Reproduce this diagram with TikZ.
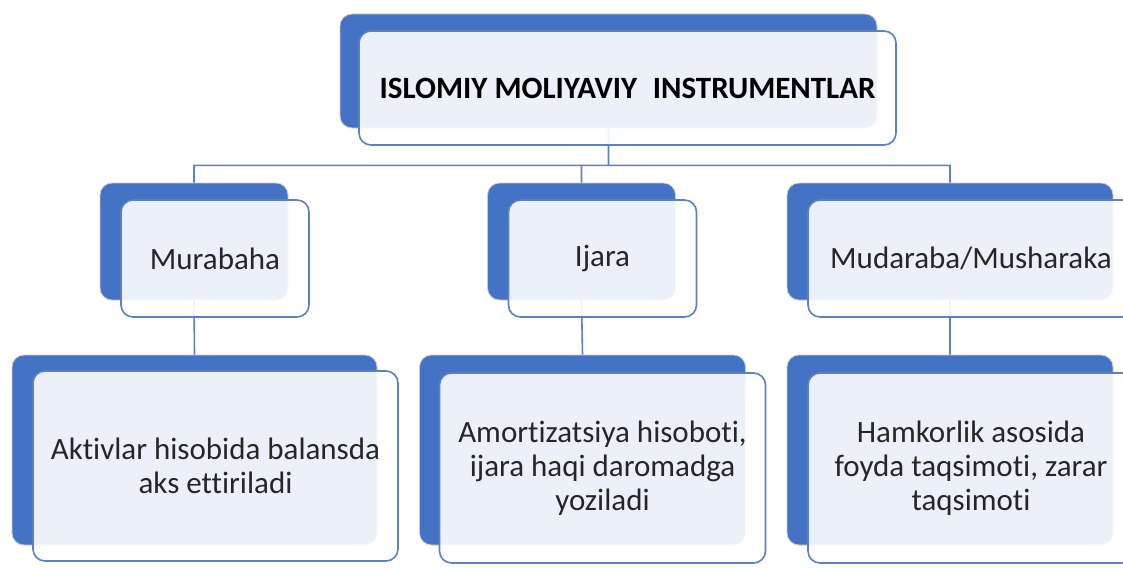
\documentclass[tikz,border=0pt]{standalone}
\usepackage{fontspec}
\setmainfont[Ligatures=NoCommon]{Carlito}
\definecolor{sablue}{HTML}{4472C4}
\definecolor{saline}{HTML}{5B80C6}
\definecolor{satext}{HTML}{262626}

\begin{document}
\begin{tikzpicture}[x=1pt, y=-1pt, font=\fontsize{31}{34}\selectfont,
  backbox/.style={rectangle, rounded corners=12pt, fill=sablue, draw=black!20, line width=0.8pt, inner sep=0pt},
  frontbox/.style={rectangle, rounded corners=12pt, fill=white, fill opacity=0.9, text opacity=1,
    draw=saline, line width=1.6pt, inner sep=0pt, align=center, text=satext},
  link/.style={draw=saline, line width=1.6pt}]

  \useasboundingbox (0,0) rectangle (1123,567);
  \clip (0,0) rectangle (1123,567);

  % back boxes
  \node[backbox, minimum width=537pt, minimum height=114pt] (top) at (608.5,71) {};
  \node[backbox, minimum width=188pt, minimum height=117pt] (mur) at (194,241.5) {};
  \node[backbox, minimum width=188pt, minimum height=117pt] (ija) at (581.5,241.5) {};
  \node[backbox, minimum width=326pt, minimum height=117pt] (mud) at (950,241.5) {};
  \node[backbox, minimum width=365pt, minimum height=190pt] (murx) at (194.5,450) {};
  \node[backbox, minimum width=326pt, minimum height=190pt] (ijax) at (582.5,450) {};
  \node[backbox, minimum width=326pt, minimum height=190pt] (mudx) at (950,450) {};

  % connectors
  \path[link]
    (top.south) -- ++(0,37) -| (mur.north)
    (top.south) -- ++(0,37) -| (ija.north)
    (top.south) -- ++(0,37) -| (mud.north)
    (mur.south) -- (murx.north)
    (ija.south) -- (ijax.north)
    (mud.south) -- (mudx.north);

  % front boxes
  \node[frontbox, minimum width=537pt, minimum height=114pt, text=black, font=\fontsize{31}{34}\selectfont\bfseries]
    (topf) at ([shift={(19,17)}]top.center) {ISLOMIY MOLIYAVIY\hspace{0.5em}INSTRUMENTLAR};
  \node[frontbox, minimum width=188pt, minimum height=117pt] (murf) at ([shift={(21,17)}]mur.center) {Murabaha};
  \node[frontbox, minimum width=188pt, minimum height=117pt] (ijaf) at ([shift={(21,17)}]ija.center) {Ijara};
  \node[frontbox, minimum width=326pt, minimum height=117pt] (mudf) at ([shift={(21,17)}]mud.center) {Mudaraba/Musharaka};
  \node[frontbox, minimum width=365pt, minimum height=190pt] (murxf) at ([shift={(21,16)}]murx.center)
    {Aktivlar hisobida balansda\\aks ettiriladi};
  \node[frontbox, minimum width=326pt, minimum height=190pt] (ijaxf) at ([shift={(20,18)}]ijax.center)
    {Amortizatsiya hisoboti,\\ijara haqi daromadga\\yoziladi};
  \node[frontbox, minimum width=326pt, minimum height=190pt] (mudxf) at ([shift={(21,18)}]mudx.center)
    {Hamkorlik asosida\\foyda taqsimoti, zarar\\taqsimoti};
\end{tikzpicture}
\end{document}
